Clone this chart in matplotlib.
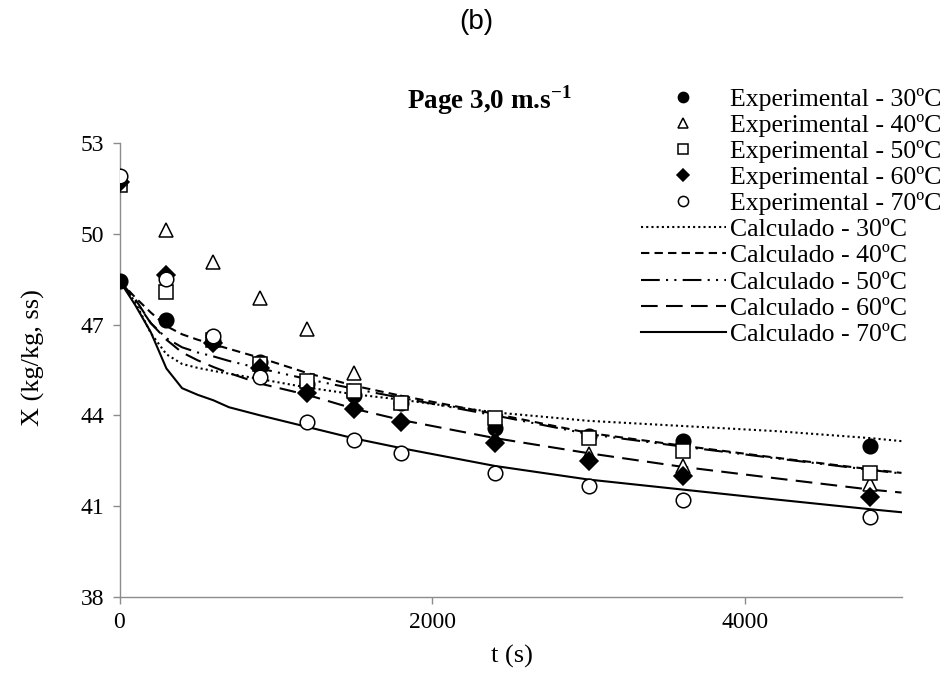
import matplotlib
matplotlib.use('Agg')
import matplotlib.pyplot as plt

plt.rcParams['font.family'] = ['Liberation Serif', 'DejaVu Serif']
plt.rcParams['mathtext.fontset'] = 'custom'
plt.rcParams['mathtext.rm'] = 'Liberation Serif'
plt.rcParams['mathtext.bf'] = 'Liberation Serif:bold'

# experimental drying points (moisture X, kg/kg dry basis)
t_exp = [0, 300, 600, 900, 1200, 1500, 1800, 2400, 3000, 3600, 4800]
x30 = [48.45, 47.15, 46.45, 45.75, 45.05, 44.68, 44.42, 43.58, 43.32, 43.15, 43.0]
x40 = [51.8, 50.12, 49.07, 47.87, 46.87, 45.39, 44.45, 43.26, 42.72, 42.33, 41.72]
x50 = [51.6, 48.07, 46.5, 45.7, 45.15, 44.81, 44.42, 43.92, 43.26, 42.83, 42.1]
x60 = [51.7, 48.65, 46.4, 45.55, 44.73, 44.2, 43.78, 43.09, 42.5, 42.0, 41.3]
x70 = [51.9, 48.51, 46.62, 45.28, 43.78, 43.2, 42.75, 42.1, 41.68, 41.22, 40.65]

# model curves
t_calc = [0, 100, 200, 300, 400, 500, 600, 700, 900, 1200, 1500, 1800,
          2400, 3000, 3600, 4200, 4800, 5000]
c30 = [48.45, 47.75, 46.72, 46.02, 45.7, 45.57, 45.47, 45.38, 45.2, 44.92,
       44.7, 44.52, 44.1, 43.82, 43.65, 43.48, 43.25, 43.15]
c40 = [48.45, 47.9, 47.4, 46.95, 46.68, 46.5, 46.35, 46.2, 45.9, 45.4,
       44.98, 44.65, 44.05, 43.42, 43.0, 42.6, 42.22, 42.1]
c50 = [48.45, 47.8, 47.05, 46.55, 46.25, 46.08, 45.95, 45.8, 45.55, 45.2,
       44.88, 44.58, 44.0, 43.38, 42.97, 42.58, 42.2, 42.08]
c60 = [48.45, 47.85, 47.05, 46.5, 46.08, 45.82, 45.6, 45.4, 45.05, 44.68,
       44.22, 43.85, 43.25, 42.75, 42.3, 41.92, 41.55, 41.45]
c70 = [48.45, 47.65, 46.75, 45.55, 44.9, 44.68, 44.5, 44.27, 44.0, 43.62,
       43.24, 42.92, 42.33, 41.88, 41.55, 41.22, 40.9, 40.8]

temps = ['30', '40', '50', '60', '70']
exp_series = [x30, x40, x50, x60, x70]
calc_series = [c30, c40, c50, c60, c70]
markers = [('o', 'black'), ('^', 'white'), ('s', 'white'), ('D', 'black'), ('o', 'white')]
dashes = [(1, 1.5), (4, 2.5), (9, 3, 1, 3, 1, 3), (8, 4), None]

fig = plt.figure(figsize=(9.52, 6.88), dpi=100)
ax = fig.add_axes([119.5/952, 1-597/688, 782/952, 454/688])

handles = []
for T, ys, (m, fc) in zip(temps, exp_series, markers):
    ms = 9 if m == 'D' else 10.5
    h, = ax.plot(t_exp, ys, ls='none', marker=m, ms=ms, mfc=fc, mec='black',
                 mew=1.1, label=f'Experimental - {T}ºC', zorder=3)
    handles.append(h)
for T, ys, d in zip(temps, calc_series, dashes):
    h, = ax.plot(t_calc, ys, color='black', lw=1.5, label=f'Calculado - {T}ºC', zorder=2)
    if d is not None:
        h.set_dashes(d)
    handles.append(h)

ax.set_xlim(0, 5000)
ax.set_ylim(38, 53)
ax.set_xticks([0, 2000, 4000])
ax.set_yticks([38, 41, 44, 47, 50, 53])
for s in ['top', 'right']:
    ax.spines[s].set_visible(False)
for s in ['left', 'bottom']:
    ax.spines[s].set_color('#8c8c8c')
    ax.spines[s].set_linewidth(1.0)
ax.tick_params(colors='#8c8c8c', labelcolor='black', length=5, width=1.0,
               labelsize=17, direction='out')
ax.tick_params(axis='x', pad=6)
ax.tick_params(axis='y', pad=6)

fig.text(512/952, 1-656/688, 't (s)', ha='center', va='center', fontsize=19)
fig.text(33/952, 1-358/688, 'X (kg/kg, ss)', ha='center', va='center',
         rotation=90, fontsize=19)
fig.text(407/952, 1-100/688, r'Page 3,0 m.s$^{\mathbf{-1}}$', ha='left', va='center',
         fontsize=19.5, fontweight='bold')
fig.text(476/952, 1-22/688, '(b)', ha='center', va='center', fontsize=20,
         family='Liberation Sans')

leg = fig.legend(handles=handles, loc='upper left',
                 bbox_to_anchor=(641/952, 1-88/688), frameon=False, fontsize=18.5,
                 handlelength=3.3, handletextpad=0.15, labelspacing=0.12,
                 borderpad=0, borderaxespad=0, markerscale=0.7)

fig.savefig('out.png', dpi=100, facecolor='white')
